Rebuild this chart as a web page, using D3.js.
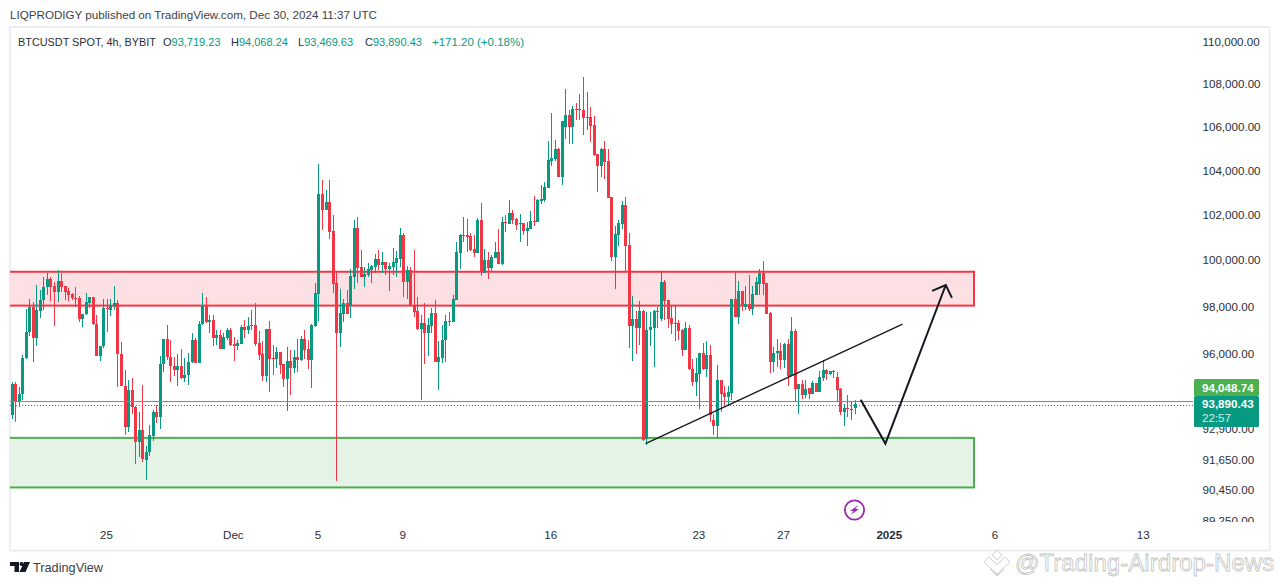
<!DOCTYPE html>
<html><head><meta charset="utf-8">
<script src="https://cdn.jsdelivr.net/npm/d3@7"></script>
<style>html,body{margin:0;padding:0;background:#fff;overflow:hidden}svg{display:block}text{font-family:"Liberation Sans",Arial,sans-serif}</style>
</head><body><svg id="c" width="1281" height="585"></svg>
<script>
const firstCandle = "2024-11-20T12:00:00Z";
const candleHours = 4;
const opens = [93440,94725,93970,94310,95800,96900,97980,96646,97770,98250,98800,99160,98860,98612,99076,98860,98640,98510,98366,98340,
97461,97670,98150,98380,97250,95870,96295,97925,97840,97953,98122,95980,94650,92955,94490,93778,92347,92820,91650,91940,
92590,93590,93360,95550,96610,95860,95480,95290,95480,94960,95080,95620,96570,95580,97250,98010,97310,97420,96650,96790,
96190,96640,97000,96407,96290,96407,97124,97000,97180,97210,96450,95980,95070,97040,95800,95770,96060,95565,94945,95690,
95400,95856,95730,96610,96175,95730,97150,98520,102911,102196,102550,101270,99000,96870,97670,98135,98010,99270,101400,99690,
99260,99345,99560,99690,100036,99775,99905,99605,99690,99860,100036,101090,99040,99560,98050,97800,97040,97290,96870,97166,
97700,95620,95815,96548,97377,97307,98262,100310,101050,101093,101050,100475,100295,101755,99430,99990,99650,100080,100340,99820,
101650,101580,102060,101800,101590,101620,101270,101360,101710,101667,102590,102640,103187,104402,104492,104942,103682,105980,106514,105960,
106790,106790,106745,106375,106420,106050,104717,104177,104942,104402,102782,100120,101093,101580,102415,100645,97166,97460,97080,97800,
92480,96997,97080,97800,97460,99030,98260,97500,97250,97290,96997,96154,97080,95360,94820,95150,96020,95360,95940,93265,
93020,94900,94360,94200,94360,98300,97545,98640,97965,98090,97880,98470,98950,99425,98990,97715,95650,96020,96105,95730,
96410,95070,96960,94530,94740,94280,94570,94320,94780,94400,94985,95318,95150,95280,95030,94530,93590,93750,93670,93719.23];
const highs = [94810,94810,94615,95925,97870,98320,98190,98900,98685,99236,99410,99265,99050,99555,99410,98860,98757,98569,98830,98424,
97630,98569,98395,98395,97630,96323,98320,98320,98320,98860,98280,96490,95318,94900,94990,93805,93590,94700,92200,93060,
93670,93870,95870,96610,97210,96570,95840,95980,96190,95800,96020,96850,96640,97380,98580,98400,97630,97630,97000,97000,
96857,97070,97070,96670,96576,97210,97420,97530,97840,98120,96955,96500,97040,97375,96355,96270,96060,95565,96270,96146,
96146,96610,96730,97000,96560,97250,99000,104260,103540,103090,103540,101975,99475,98740,98310,98690,99580,101755,101890,100425,
99690,99860,99775,100250,100425,100340,99905,99860,100520,100380,101380,101180,99735,99690,100425,98395,97600,98135,97500,97910,
98262,96505,97208,97630,97756,98480,100775,101138,101887,101800,101165,101093,101840,102505,100475,100340,100210,100780,101360,101890,
101960,102637,102195,101840,102020,101620,101670,102150,102825,102680,103320,103460,105313,106606,105360,104990,106250,107720,106745,106930,
107070,107485,108290,107580,106885,106470,104717,104990,105313,104942,102782,101475,101740,102590,102782,101165,98425,97800,98220,97840,
97756,97756,97840,97980,99510,99120,98260,98050,98050,97420,97040,97340,97208,95773,95815,96020,96450,96520,96360,93470,
95525,94900,94650,94650,98300,99470,99075,98640,98860,99340,98860,99250,99600,99950,98990,97755,96270,96615,96450,96450,
96620,97545,97040,94740,94900,94900,94570,94860,94780,95280,95730,95360,95280,95320,95235,94560,93900,94280,94030,94068.24];
const lows = [93305,93160,93765,94050,95775,96716,95622,96295,97475,97812,98467,98234,97138,98192,98612,98250,98234,98250,97981,97307,
97124,97630,97910,97208,95870,95663,96211,96885,97560,97840,94590,94620,92630,92750,93510,91464,91770,91570,90825,91810,
92390,93130,92870,95210,95730,94820,95070,94660,94910,94790,94690,95590,95580,95580,97210,97280,96857,96320,96360,96190,
96190,96550,96320,95690,96146,96407,96646,96830,96970,96320,95730,94835,94795,94380,95110,95400,95150,94610,93600,94280,
95180,95205,95690,95770,95360,94570,97120,97375,101310,102196,100917,98570,90795,96280,97335,97670,97500,98740,99000,99260,
98830,99260,99000,99430,99560,99430,99345,98655,99345,99260,99690,98395,98310,98010,97545,97000,94075,95565,95900,96857,
95620,94490,95594,95650,97166,97307,98262,99604,100790,100340,100380,100120,100295,99300,99430,99170,99475,100080,99820,99780,
101210,101580,101580,101330,100780,101090,100600,101360,101490,101667,102460,102550,103187,104177,104402,103682,103320,105420,105190,105190,
106280,106280,105620,105840,105265,104627,103007,103682,103592,102737,99950,98740,100600,101360,99520,96230,95690,95980,96365,92400,
92250,96323,95440,97080,97380,97420,97080,96830,96520,96576,95900,96154,95318,94650,94240,93710,95318,95030,93180,92617,
92535,93590,93830,93830,94075,97545,97250,97800,97840,97800,97630,98470,98470,98470,97670,95180,95230,95440,95360,95400,
94650,95070,94030,93510,94120,94160,94120,94320,94400,94400,94860,94900,95110,94985,93990,93430,93020,93385,93225,93469.63];
const closes = [94725,93967,94310,95800,96900,97980,96632,97812,98280,98801,99160,98830,98612,99076,98830,98612,98482,98352,98340,97461,
97672,98178,98380,97222,95870,96323,97925,97870,98051,98122,95953,94630,92955,94490,93778,92347,92820,91677,91970,92630,
93590,93370,95565,96610,95840,95460,95290,95480,94960,95110,95650,96570,95580,97250,98010,97310,97420,96650,96790,96190,
96675,97000,96365,96290,96450,97124,97000,97166,97210,96407,95940,95070,97040,95770,95770,96060,95525,94945,95690,95400,
95856,95730,96610,96146,95730,97210,98565,102911,102196,102550,101240,98956,96870,97715,98135,97670,99300,101400,99645,99260,
99390,99605,99735,100036,99775,99905,99605,99735,99905,100080,101090,99040,99560,98010,97755,97040,97290,96870,97210,97700,
95620,95840,96576,97377,97307,98305,100340,101090,101093,101000,100430,100295,101755,99475,99990,99650,100120,100340,99820,101650,
101610,102060,101755,101535,101620,101270,101400,101710,101667,102640,102680,103225,104447,104537,104942,103682,106250,106514,105960,106790,
106745,106745,106375,106420,106005,104672,104177,104942,104357,102737,100120,101138,101620,102415,100600,97166,97460,97080,97800,92440,
96997,97124,97800,97770,99030,98220,97460,97250,97290,96955,96154,97080,95360,94820,95194,96020,95360,95940,93430,93020,
94900,94320,94200,94400,98300,97545,98640,98050,98090,97880,98510,99030,99425,98950,97670,95650,96020,96105,95730,96410,
95070,96960,94530,94740,94280,94530,94320,94780,94400,95030,95318,95150,95280,95235,94490,93590,93750,93710,93710,93890.43];

const priceTicks = [110000,108000,106000,104000,102000,100000,98000,96000,92900,91650,90450,89250];
const dateTicks = ["2024-11-25","2024-12-01","2024-12-05","2024-12-09","2024-12-16","2024-12-23","2024-12-27","2025-01-01","2025-01-06","2025-01-13"];
const dateLabels = ["25","Dec","5","9","16","23","27","2025","6","13"];
const redZone = {from:"2024-11-01T00:00:00Z", to:"2025-01-04T23:30:00Z", top:99480, bottom:98020};
const greenZone = {from:"2024-11-01T00:00:00Z", to:"2025-01-04T23:30:00Z", top:92520, bottom:90540};
const trendTimes = ["2024-12-20T11:00:00Z","2025-01-01T14:30:00Z"];
const trendPrices = [92290,97230];
const pathTimes = ["2024-12-30T15:00:00Z","2024-12-31T19:00:00Z","2025-01-03T15:30:00Z"];
const pathPrices = [94075,92290,98906];
const headTimes = ["2025-01-03T00:00:00Z","2025-01-03T15:30:00Z","2025-01-03T22:30:00Z"];
const headPrices = [98650,98906,98350];
const legendLabels = ["O","H","L","C"];
const legendValues = ["93,719.23","94,068.24","93,469.63","93,890.43"];
const prevLine = 94048.74, lastClose = 93890.43, countdown = "22:57";

const UP="#089981", DOWN="#F23645", ZGREEN="#4CAF50", INK="#131722";
const svg=d3.select("#c");
const x=d3.scaleUtc().domain([new Date("2024-11-25T00:00:00Z"),new Date("2025-01-13T00:00:00Z")]).range([106.9,1143.7]);
const y=d3.scaleLog().domain([89250,110000]).range([520.3,41.5]);
const t=s=>new Date(s);
const defs=svg.append("defs");
defs.append("clipPath").attr("id","pane").append("rect").attr("x",10).attr("y",27).attr("width",1183).attr("height",496);
defs.append("clipPath").attr("id","scale").append("rect").attr("x",1190).attr("y",27).attr("width",79).attr("height",495);

// frame
svg.append("rect").attr("x",10).attr("y",27).attr("width",1259.5).attr("height",523.5).attr("fill","#fff").attr("stroke","#EDEEF4").attr("stroke-width",2);

const pane=svg.append("g").attr("clip-path","url(#pane)");
function zone(z,col,fill){
  pane.append("rect").attr("x",x(t(z.from))).attr("y",y(z.top)).attr("width",x(t(z.to))-x(t(z.from))).attr("height",y(z.bottom)-y(z.top))
    .attr("fill",fill).attr("stroke",col).attr("stroke-width",2);
}
zone(redZone,DOWN,"#FDE0E3");
zone(greenZone,ZGREEN,"#E5F3E6");

const candles=opens.map((o,i)=>({t:new Date(+t(firstCandle)+i*candleHours*36e5),o,h:highs[i],l:lows[i],c:closes[i]}));
const cg=pane.append("g").attr("shape-rendering","crispEdges");
const cs=cg.selectAll("g").data(candles).join("g").attr("fill",d=>d.c>=d.o?UP:DOWN);
cs.append("rect").attr("x",d=>Math.round(x(d.t))).attr("width",1).attr("y",d=>y(d.h)).attr("height",d=>y(d.l)-y(d.h));
cs.append("rect").attr("x",d=>Math.round(x(d.t))-1).attr("width",3).attr("y",d=>y(Math.max(d.o,d.c))).attr("height",d=>Math.max(1,y(Math.min(d.o,d.c))-y(Math.max(d.o,d.c))));

// price lines
const plY=Math.ceil(y(prevLine))+.5, lcY=Math.ceil(y(lastClose))+.5;
pane.append("line").attr("x1",10).attr("x2",1193).attr("y1",plY).attr("y2",plY).attr("stroke",ZGREEN).attr("stroke-width",1).attr("shape-rendering","crispEdges");
pane.append("line").attr("x1",10).attr("x2",1193).attr("y1",lcY).attr("y2",lcY).attr("stroke",UP).attr("stroke-width",1).attr("stroke-dasharray","1 2").attr("shape-rendering","crispEdges");

// drawings
const ln=d3.line().x(d=>x(t(d[0]))).y(d=>y(d[1]));
pane.append("path").attr("d",ln(d3.zip(trendTimes,trendPrices))).attr("fill","none").attr("stroke",INK).attr("stroke-width",1.3);
pane.append("path").attr("d",ln(d3.zip(pathTimes,pathPrices))).attr("fill","none").attr("stroke",INK).attr("stroke-width",2);
pane.append("path").attr("d",ln(d3.zip(headTimes,headPrices))).attr("fill","none").attr("stroke",INK).attr("stroke-width",2);

// lightning badge
const b=pane.append("g").attr("transform","translate(854.5,510)");
b.append("circle").attr("r",9.6).attr("fill","#fff").attr("stroke","#9C27B0").attr("stroke-width",1.8);
b.append("path").attr("d","M4,-5 L-4.5,1 L-0.8,1 L-4,5 L4.5,-1 L0.8,-1 Z").attr("fill","#9C27B0");

// price scale
const ya=d3.axisRight(y).tickValues(priceTicks).tickSize(0).tickPadding(0).tickFormat(d3.format(",.2f"));
const yg=svg.append("g").attr("clip-path","url(#scale)").append("g").attr("transform","translate(1202.5,0.4)").call(ya);
yg.select(".domain").remove();
yg.selectAll("text").attr("font-size",11.6).attr("font-family","Liberation Sans").attr("fill","#2A2E39");

// time axis
const xa=d3.axisBottom(x).tickValues(dateTicks.map(d=>new Date(d+"T00:00:00Z"))).tickSize(0).tickPadding(0).tickFormat((d,i)=>dateLabels[i]);
const xg=svg.append("g").attr("transform","translate(-1,531)").call(xa);
xg.select(".domain").remove();
xg.selectAll("text").attr("font-size",11.6).attr("fill","#2A2E39").attr("font-weight",(d,i)=>dateLabels[i]==="2025"?700:400);

// price tags
const tag=svg.append("g").attr("font-family","Liberation Sans").attr("fill","#fff");
tag.append("rect").attr("x",1194).attr("y",379).attr("width",65).attr("height",17).attr("rx",1.5).attr("fill",ZGREEN);
tag.append("rect").attr("x",1194).attr("y",396).attr("width",65).attr("height",31).attr("rx",1.5).attr("fill",UP);
tag.append("text").attr("x",1202).attr("y",391.5).attr("font-size",11.6).attr("font-weight",700).text(d3.format(",.2f")(prevLine));
tag.append("text").attr("x",1202).attr("y",407.5).attr("font-size",11.6).attr("font-weight",700).text(d3.format(",.2f")(lastClose));
tag.append("text").attr("x",1202).attr("y",421.5).attr("font-size",11.6).attr("fill","#D4EEE8").text(countdown);

// header
const HF="Noto Sans";
svg.append("text").attr("x",10).attr("y",18.5).attr("font-size",11).attr("font-family",HF).attr("fill","#3a3f4b").attr("textLength",367).attr("lengthAdjust","spacingAndGlyphs").text("LIQPRODIGY published on TradingView.com, Dec 30, 2024 11:37 UTC");
const lg=svg.append("g").attr("font-size",11).attr("font-family",HF).attr("fill","#2A2E39");
lg.append("text").attr("x",18).attr("y",46).attr("textLength",138).attr("lengthAdjust","spacingAndGlyphs").text("BTCUSDT SPOT, 4h, BYBIT");
const lgX=[163,231,298,365];
legendLabels.forEach((l,i)=>{
  const e=lg.append("text").attr("x",lgX[i]).attr("y",46);
  e.append("tspan").text(l);
  e.append("tspan").attr("fill",UP).text(legendValues[i]);
});
lg.append("text").attr("x",432).attr("y",46).attr("fill",UP).attr("textLength",92).attr("lengthAdjust","spacingAndGlyphs").text("+171.20 (+0.18%)");

// footer logo
const logo=svg.append("g").attr("fill","#131722");
logo.append("path").attr("d","M10,562 H19 V572 H14.5 V566 H10 Z");
logo.append("circle").attr("cx",21.5).attr("cy",564).attr("r",2);
logo.append("path").attr("d","M24,562 H30 L25.5,572 H19.5 Z");
svg.append("text").attr("x",33).attr("y",571.5).attr("font-size",12.6).attr("font-family",HF).attr("fill","#3a3f4b").attr("textLength",70).attr("lengthAdjust","spacingAndGlyphs").text("TradingView");

// watermark
const wm=svg.append("g").attr("fill","#fff").attr("stroke","#C4C4C4").attr("stroke-width",.8);
wm.append("path").attr("d","M997,550 l5,5 -5,5 -5,-5 Z M984,562 l5,-5 8,8 8,-8 5,5 -13,12 Z M990,569 l7,6 7,-6 -1,1 -6,6 -6,-6 Z");
wm.append("text").attr("x",1015).attr("y",571).attr("font-size",24.1).attr("font-family","Liberation Sans").text("@Trading-Airdrop-News");
</script></body></html>
